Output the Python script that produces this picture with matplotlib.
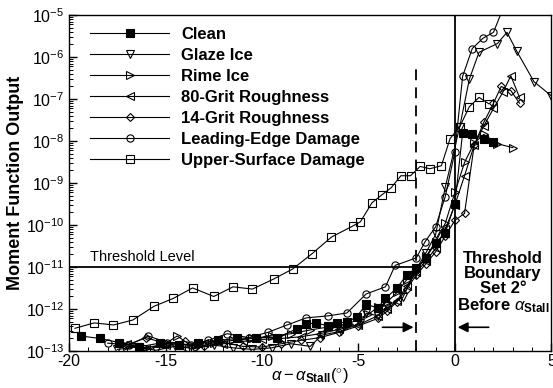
import matplotlib
matplotlib.use("Agg")
import numpy as np
import matplotlib.pyplot as plt
from matplotlib.ticker import LogLocator, MultipleLocator, NullFormatter, FuncFormatter

plt.rcParams['font.family'] = ['Liberation Sans', 'DejaVu Sans']
plt.rcParams['mathtext.fontset'] = 'custom'
plt.rcParams['mathtext.rm'] = 'Liberation Sans'
plt.rcParams['mathtext.it'] = 'Liberation Sans:italic'
plt.rcParams['mathtext.bf'] = 'Liberation Sans:bold'
plt.rcParams['axes.unicode_minus'] = False

# data (alpha - alpha_stall in deg, moment function output)
clean_x = [-19.4, -18.4, -17.4, -16.4, -15.3, -14.3, -13.3, -12.3, -11.3, -10.3, -9.2,
           -8.2, -7.7, -7.2, -6.6, -6.1, -5.6, -5.1, -4.6, -4.0, -3.6, -3.0, -2.5, -2.0,
           -1.5, -1.0, -0.5, 0.0, 0.4, 0.9, 1.5, 2.0]
clean_y = [2.3e-13, 2.0e-13, 1.6e-13, 1.26e-13, 1.55e-13, 1.38e-13, 1.55e-13, 1.8e-13, 2.0e-13,
           2.1e-13, 2.1e-13, 3.4e-13, 4.4e-13, 4.7e-13, 4.0e-13, 4.7e-13, 4.9e-13, 6.5e-13,
           1.3e-12, 1.07e-12, 1.8e-12, 3.2e-12, 6.5e-12, 9.5e-12, 1.66e-11, 3.8e-11, 6.6e-11,
           3.2e-10, 1.6e-8, 1.45e-8, 1.15e-8, 9.8e-9]

glaze_x = [-17.5, -16.5, -15.5, -14.5, -13.5, -12.5, -11.5, -10.5, -9.5, -8.5, -7.5, -6.9,
           -5.9, -4.9, -4.6, -4.0, -3.5, -2.7, -2.0, -1.5, -1.0, -0.5, 0.25, 0.75, 1.25, 2.2,
           2.7, 3.2, 4.1, 5.0]
glaze_y = [1.1e-13, 1.25e-13, 1.05e-13, 1.3e-13, 1.15e-13, 1.4e-13, 1.2e-13, 1.1e-13, 1.2e-13,
           1.5e-13, 1.3e-13, 2.4e-13, 3.0e-13, 4.7e-13, 8e-13, 7e-13, 1.2e-12, 1.9e-12, 9e-12,
           2.2e-11, 6e-11, 8e-10, 2.2e-8, 3e-7, 1.3e-6, 2.1e-6, 3.9e-6, 1.4e-6, 2.6e-7, 1.2e-7]

rime_x = [-17.0, -16.0, -15.0, -14.4, -13.5, -12.5, -11.5, -10.5, -9.5, -8.5, -7.5, -6.5,
          -5.5, -4.5, -4.0, -3.5, -3.0, -2.5, -2.0, -1.5, -1.0, -0.5, 0.0, 0.5, 1.0, 1.5,
          2.2, 3.0]
rime_y = [1.3e-13, 1.2e-13, 1.5e-13, 2.3e-13, 1.2e-13, 1.6e-13, 1.8e-13, 2.0e-13, 2.3e-13,
          2.6e-13, 3.2e-13, 3.8e-13, 4.5e-13, 7.5e-13, 1.1e-12, 1.5e-12, 2.5e-12, 5e-12, 8e-12,
          1.8e-11, 4e-11, 1.1e-10, 6e-10, 3.1e-9, 9e-9, 1.45e-8, 8.7e-9, 7e-9]

grit80_x = [-17.0, -16.0, -15.0, -14.0, -13.0, -12.0, -11.0, -10.0, -9.0, -8.0, -7.0, -6.0,
            -5.0, -4.0, -3.5, -3.0, -2.5, -2.0, -1.5, -1.0, -0.5, 0.0, 0.5, 1.0, 1.5, 2.0,
            2.5, 2.9, 3.35]
grit80_y = [1.5e-13, 1.1e-13, 1.4e-13, 1.2e-13, 1.6e-13, 1.5e-13, 1.7e-13, 1.9e-13, 2.0e-13,
            2.2e-13, 2.6e-13, 3.3e-13, 4.2e-13, 7e-13, 1.0e-12, 1.6e-12, 3.5e-12, 7.5e-12,
            1.4e-11, 2.8e-11, 8e-11, 3e-10, 1.5e-9, 8e-9, 2.3e-8, 6e-8, 1.5e-7, 3.6e-7, 1.1e-7]

grit14_x = [-17.0, -16.0, -15.0, -14.0, -13.0, -12.0, -11.0, -10.0, -9.0, -8.0, -7.0, -6.0,
            -5.0, -4.0, -3.5, -3.0, -2.5, -2.0, -1.5, -1.0, -0.5, 0.0, 0.5, 1.0, 1.5, 2.0,
            2.4, 2.9, 3.35]
grit14_y = [1.4e-13, 2.1e-13, 1.5e-13, 1.7e-13, 1.3e-13, 1.6e-13, 1.3e-13, 1.25e-13, 1.5e-13,
            1.8e-13, 2.1e-13, 2.8e-13, 4.0e-13, 6e-13, 9e-13, 1.5e-12, 3.0e-12, 6.5e-12,
            1.2e-11, 2.3e-11, 5.5e-11, 1.3e-10, 1.9e-10, 8e-9, 2.8e-8, 8e-8, 2e-7, 1.6e-7, 8e-8]

led_x = [-18.0, -16.9, -15.9, -14.9, -13.7, -12.8, -11.8, -10.7, -9.7, -8.7, -7.7, -6.6,
         -5.6, -4.6, -3.6, -3.1, -2.0, -1.55, -1.0, -0.5, 0.0, 0.4, 0.9, 1.45, 2.0, 2.5]
led_y = [1.55e-13, 1.4e-13, 2.3e-13, 1.6e-13, 1.4e-13, 1.8e-13, 2.6e-13, 2.1e-13, 2.8e-13,
         4.2e-13, 6.2e-13, 6.9e-13, 8.1e-13, 2.3e-12, 3.4e-12, 1.1e-11, 1.66e-11, 4.0e-11,
         9.1e-11, 4.8e-10, 5.6e-9, 3.5e-7, 1.6e-6, 2.8e-6, 3.9e-6, 1.45e-5]

usd_x = [-19.7, -18.7, -17.7, -16.7, -15.6, -14.6, -13.6, -12.5, -11.5, -10.5, -9.4, -8.4,
         -7.4, -6.4, -5.3, -4.9, -4.3, -3.8, -3.3, -2.8, -2.3, -1.8, -1.3, -0.7, -0.25, 0.25,
         0.75, 1.25, 1.75]
usd_y = [3.5e-13, 4.7e-13, 4.2e-13, 5.5e-13, 1.17e-12, 1.8e-12, 3.2e-12, 2.0e-12, 3.4e-12,
         3.0e-12, 5.2e-12, 9.1e-12, 2.1e-11, 5.2e-11, 9.5e-11, 1.2e-10, 3.4e-10, 5.2e-10,
         7.8e-10, 1.5e-9, 1.5e-9, 2.5e-9, 2.2e-9, 2.6e-9, 1.15e-8, 2.2e-8, 6.6e-8, 1.1e-7, 7.8e-8]

threshold_level = 1e-11
boundary = -2.0

fig = plt.figure(figsize=(5.53, 3.88), dpi=100)
ax = fig.add_axes([0.125, 0.095, 0.872, 0.866])

series = [
    (clean_x, clean_y, 's', 'k', 'Clean'),
    (glaze_x, glaze_y, 'v', 'none', 'Glaze Ice'),
    (rime_x, rime_y, '>', 'none', 'Rime Ice'),
    (grit80_x, grit80_y, '<', 'none', '80-Grit Roughness'),
    (grit14_x, grit14_y, 'D', 'none', '14-Grit Roughness'),
    (led_x, led_y, 'o', 'none', 'Leading-Edge Damage'),
    (usd_x, usd_y, 's', 'none', 'Upper-Surface Damage'),
]
for xs, ys, m, fc, lab in series:
    ms = 4.2 if m == 'D' else 5.2
    ax.plot(xs, ys, color='k', lw=0.8, marker=m, ms=ms, mfc=fc, mec='k', mew=0.8, label=lab)

# threshold level, boundary and stall lines
ax.plot([-20, boundary], [threshold_level, threshold_level], color='k', lw=1.3)
ax.plot([boundary, boundary], [1e-13, 7e-7], color='k', lw=1.3, dashes=(6, 4))
ax.plot([0, 0], [1e-13, 1e-5], color='k', lw=1.3)
ax.text(-18.9, 1.2e-11, 'Threshold Level', fontsize=10.5, va='bottom', ha='left')

ax.annotate('', xy=(boundary, 3.7e-13), xytext=(-3.9, 3.7e-13),
            arrowprops=dict(arrowstyle='-|>', color='k', lw=1.2, mutation_scale=15))
ax.annotate('', xy=(0, 3.7e-13), xytext=(1.9, 3.7e-13),
            arrowprops=dict(arrowstyle='-|>', color='k', lw=1.2, mutation_scale=15))
ax.text(2.5, 2.4e-11, 'Threshold\nBoundary\nSet 2\u00b0\nBefore $\\alpha_{\\mathbf{Stall}}$',
        ha='center', va='top', fontsize=12, fontweight='bold', linespacing=1.0)

ax.set_yscale('log')
ax.set_xlim(-20, 5)
ax.set_ylim(1e-13, 1e-5)
ax.xaxis.set_major_locator(MultipleLocator(5))
ax.xaxis.set_minor_locator(MultipleLocator(1))
ax.yaxis.set_major_locator(LogLocator(base=10, numticks=20))
ax.yaxis.set_minor_locator(LogLocator(base=10, subs=range(2, 10), numticks=20))
ax.yaxis.set_minor_formatter(NullFormatter())
ax.yaxis.set_major_formatter(FuncFormatter(lambda v, p: '10$^{%d}$' % round(np.log10(v))))
ax.tick_params(which='both', direction='in', top=False, right=False, labelsize=11.5)
ax.tick_params(which='major', length=6, width=1)
ax.tick_params(which='minor', length=3, width=0.7)
ax.tick_params(axis='x', pad=2)
for sp in ax.spines.values():
    sp.set_linewidth(1.0)

ax.set_ylabel('Moment Function Output', fontsize=13, fontweight='bold', labelpad=1)
ax.set_xlabel('$\\alpha - \\alpha_{\\mathbf{Stall}}(^{\\circ})$', fontsize=12, labelpad=-2)

ax.legend(loc='upper left', bbox_to_anchor=(0.02, 1.0), frameon=False,
          prop={'weight': 'bold', 'size': 12}, handlelength=4.7, handletextpad=0.75,
          labelspacing=0.36, borderaxespad=0.3)

fig.savefig('out.png', dpi=100)
